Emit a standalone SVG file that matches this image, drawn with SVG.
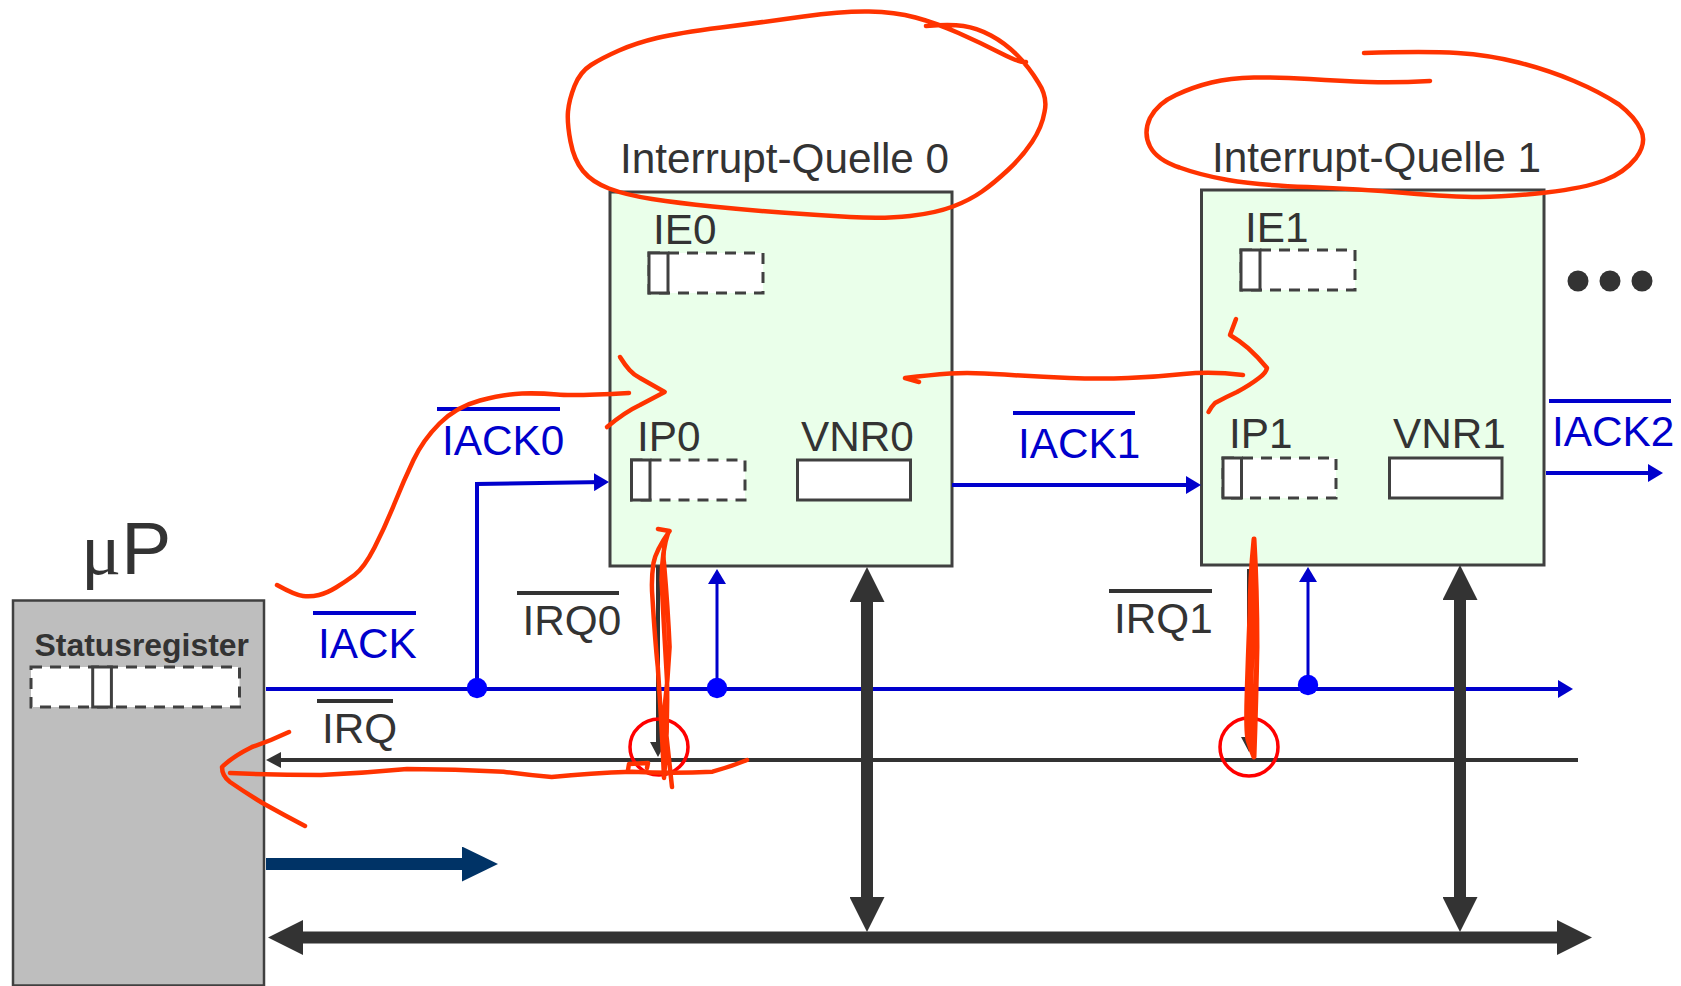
<svg xmlns="http://www.w3.org/2000/svg" width="1681" height="986" viewBox="0 0 1681 986">
<style>
text{font-family:"Liberation Sans",Arial,sans-serif;font-size:42.3px;fill:#333}
.b{fill:#0000cc}
.node{fill:#eaffea;stroke:#404040;stroke-width:3}
.reg{fill:#fff;stroke:#404040;stroke-width:3}
.dash{fill:#fff;stroke:#404040;stroke-width:3;stroke-dasharray:11 8}
.bar{stroke-width:4;fill:none}
.bk{stroke:#333}
.bl{stroke:#0000cc}
.sig{fill:none;stroke:#0000cc;stroke-width:4}
.dk{fill:none;stroke:#333;stroke-width:4}
.bus{fill:none;stroke:#333;stroke-width:12}
.pen{fill:none;stroke:#ff3300;stroke-width:4.5;stroke-linecap:round;stroke-linejoin:round}
.ring{fill:none;stroke:#ff0000;stroke-width:3.5}
.dot{fill:#0000ff}
</style>
<defs>
<marker id="hb" markerUnits="userSpaceOnUse" markerWidth="16" markerHeight="18" refX="11" refY="9" orient="auto"><path d="M0 0L15 9L0 18z" fill="#0000cc"/></marker>
<marker id="hd" markerUnits="userSpaceOnUse" markerWidth="16" markerHeight="18" refX="11" refY="9" orient="auto"><path d="M0 1L15 9L0 17z" fill="#333"/></marker>
<marker id="hB" markerUnits="userSpaceOnUse" markerWidth="36" markerHeight="35" refX="2" refY="17.5" orient="auto-start-reverse"><path d="M0 0L35 17.5L0 35z" fill="#333"/></marker>
<marker id="hN" markerUnits="userSpaceOnUse" markerWidth="37" markerHeight="35" refX="2" refY="17.5" orient="auto"><path d="M0 0L36 17.5L0 35z" fill="#003366"/></marker>
</defs>

<g id="cpu">
<rect x="13" y="600.5" width="251" height="385" fill="#bebebe" stroke="#404040" stroke-width="2.5"/>
<text x="81" y="574" style="font-size:75px"><tspan style="font-family:'Liberation Serif',serif">μ</tspan>P</text>
<text x="34.5" y="656" style="font-size:31.9px;font-weight:bold">Statusregister</text>
<rect class="dash" x="31" y="667" width="208.5" height="40"/>
<rect class="reg" x="92.7" y="667" width="18.7" height="40" fill="none"/>
</g>

<g id="source0">
<rect class="node" x="610" y="192" width="342" height="374"/>
<text x="620" y="173">Interrupt-Quelle 0</text>
<text x="653" y="244">IE0</text>
<rect class="dash" x="649" y="253" width="114" height="40"/>
<rect class="reg" x="649" y="253" width="19" height="40"/>
<text x="637" y="451">IP0</text>
<rect class="dash" x="631.5" y="460" width="113.5" height="40"/>
<rect class="reg" x="631.5" y="460" width="18.5" height="40"/>
<text x="801" y="451">VNR0</text>
<rect class="reg" x="797.5" y="460" width="113" height="40"/>
</g>

<g id="source1">
<rect class="node" x="1201.5" y="190" width="342.5" height="375"/>
<text x="1212" y="172">Interrupt-Quelle 1</text>
<text x="1245" y="242">IE1</text>
<rect class="dash" x="1241" y="250" width="114" height="40"/>
<rect class="reg" x="1241" y="250" width="19" height="40"/>
<text x="1229" y="448">IP1</text>
<rect class="dash" x="1223" y="458" width="113" height="40"/>
<rect class="reg" x="1223" y="458" width="18.5" height="40"/>
<text x="1393" y="448">VNR1</text>
<rect class="reg" x="1389.5" y="458" width="112.5" height="40"/>
</g>

<g id="connectors">
<path class="sig" d="M266 689H1569" marker-end="url(#hb)"/>
<path class="sig" d="M477 689V484L605 482" marker-end="url(#hb)"/>
<path class="sig" d="M952 485H1197" marker-end="url(#hb)"/>
<path class="sig" d="M1546 473H1659" marker-end="url(#hb)"/>
<path class="sig" style="stroke-width:3" d="M717 689V573" marker-end="url(#hb)"/>
<path class="sig" style="stroke-width:3" d="M1308 685V571" marker-end="url(#hb)"/>
<path class="dk" d="M1578 760H270" marker-end="url(#hd)"/>
<path class="dk" d="M658 566V753" marker-end="url(#hd)"/>
<path class="dk" d="M1249 569V748" marker-end="url(#hd)"/>
<path d="M266 864H464" fill="none" stroke="#003366" stroke-width="12" marker-end="url(#hN)"/>
<path class="bus" d="M301 937.5H1559" marker-start="url(#hB)" marker-end="url(#hB)"/>
<path class="bus" d="M867 600V899" marker-start="url(#hB)" marker-end="url(#hB)"/>
<path class="bus" d="M1460 598V899" marker-start="url(#hB)" marker-end="url(#hB)"/>
<circle class="dot" cx="477" cy="688" r="10.2"/>
<circle class="dot" cx="717" cy="688" r="10.2"/>
<circle class="dot" cx="1308" cy="685" r="10.2"/>
</g>

<g id="labels">
<text class="b" x="318" y="658">IACK</text><path class="bar bl" d="M313 613H416"/>
<text x="322" y="743">IRQ</text><path class="bar bk" d="M317 701H393"/>
<text x="522.5" y="635">IRQ0</text><path class="bar bk" d="M517 593H619"/>
<text x="1114" y="633">IRQ1</text><path class="bar bk" d="M1109 591H1212"/>
<text class="b" x="442" y="455">IACK0</text><path class="bar bl" d="M437 409H560"/>
<text class="b" x="1018" y="458">IACK1</text><path class="bar bl" d="M1013 413H1135"/>
<text class="b" x="1552" y="446">IACK2</text><path class="bar bl" d="M1549 401H1671"/>
</g>

<g id="ellipsis" fill="#333">
<circle cx="1578" cy="281" r="10.5"/><circle cx="1610" cy="281" r="10.5"/><circle cx="1642" cy="281" r="10.5"/>
</g>

<g id="annotations">
<ellipse class="ring" cx="659" cy="747" rx="29" ry="28"/>
<ellipse class="ring" cx="1249" cy="747" rx="29" ry="29"/>
<path class="pen" d="M926 26Q950 24 963.5 26Q977 28 991 35.5Q1005 43 1017 55Q1029 67 1038 82Q1048 97 1044.5 112Q1042 127 1032 142Q1022 157 1008 170Q994 183 982 191.5Q970 200 953 206.5Q936 213 910 216Q884 219 850 217Q816 215 781.5 212.5Q747 210 712.5 206.5Q678 203 652 199Q626 195 609 188.5Q592 182 583 171Q574 160 570.5 141.5Q567 123 568 111.5Q569 100 574.5 86Q580 72 591 65Q602 58 619 50.5Q636 43 657 38Q678 33 721 27.5Q764 22 803.5 16.5Q843 11 869 11.5Q895 12 915.5 17.5Q936 23 958.5 33Q981 43 1000.5 53Q1020 63 1026 62"/>
<path class="pen" d="M1430 81Q1396 83 1368.5 82Q1341 81 1309.5 79Q1278 77 1254 77.5Q1230 78 1211.5 82.5Q1193 87 1176 95Q1158 103 1150 118Q1143 133 1150 146.5Q1157 160 1179.5 167.5Q1200 175 1228 180Q1256 185 1307.5 187Q1359 189 1405.5 193Q1452 197 1479.5 197Q1507 197 1546 192.5Q1585 188 1604 180.5Q1624 173 1636 158Q1647 143 1641 130Q1635 117 1619 104.5Q1600 92 1574 81Q1548 70 1518.5 62.5Q1489 55 1457.5 53Q1426 51 1364 53"/>
<path class="pen" d="M277 585Q295 595 303 596Q311 597 319 595Q327 593 336 587.5Q345 582 354.5 575Q364 568 374.5 547.5Q385 527 394.5 503.5Q404 480 413.5 460Q423 440 439.5 423.5Q456 407 480 400.5Q504 394 522 393.5Q540 393 557 394.5Q574 396 629 393"/>
<path class="pen" d="M620 357Q625 365 629.5 370Q634 375 640 378L664.7 392L640 405Q625 412 607 427"/>
<path class="pen" d="M919 382L905 378Q930 375 950 373.5Q970 372 1004.5 374.5Q1039 377 1069.5 378Q1100 379 1128 378Q1156 377 1183.5 374Q1211 371 1243 375"/>
<path class="pen" d="M1236 319L1230 335Q1240 341 1248 348Q1258 357 1267 368Q1266 373 1259 378Q1250 385 1237 392Q1226 397 1215 403Q1211 407 1208.5 412"/>
<path class="pen" d="M658 529L669.6 531Q656 550 653.5 563Q651 580 652.4 597Q655 640 657.8 667Q662 730 664 778Q668 730 667 680Q664 630 661.5 580Q662 550 668.4 532Q662 550 664 563Q668 610 669.6 647Q668 680 664 713Q668 750 672 787"/>
<path class="pen" d="M747 760Q730 767 712.5 771.7Q672 774 632 771.7Q590 773 551.7 777Q527 775 503.5 771.7Q455 769 407 769Q365 773 321 775Q275 775 230 773"/>
<path class="pen" d="M628 770L629 764L648 763L647 768"/>
<path class="pen" d="M289 732Q270 741 252 747Q232 757 222 767Q222 776 230 782Q246 793 262.5 803Q284 815 305 826"/>
<path class="pen" style="stroke-width:5" d="M1254 539Q1250 580 1250 613Q1248 660 1247 697Q1246 730 1248 740Q1251 750 1254 757Q1256 700 1257 647Q1257 590 1254 539Q1252 600 1252 650Q1250 700 1252 750"/>
</g>
</svg>
